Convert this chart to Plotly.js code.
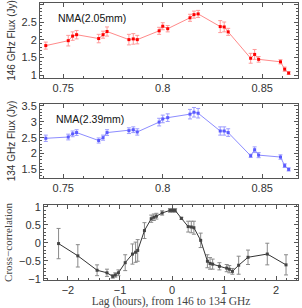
<!DOCTYPE html>
<html><head><meta charset="utf-8">
<script src="https://cdn.plot.ly/plotly-3.0.1.min.js"></script>
<style>html,body{margin:0;padding:0;background:#fff}#g{width:302px;height:308px}</style>
</head><body><div id="g"></div>
<script>
// Panel 1: 146 GHz (2.05 mm)
const time1 = [0.7412,0.7525,0.7547,0.7567,0.7678,0.7700,0.7720,0.7830,0.7852,0.7872,0.7982,0.8000,0.8025,0.8137,0.8157,0.8178,0.8289,0.8309,0.8329,0.8442,0.8462,0.8482,0.8592,0.8613,0.8633];
const flux146 = [1.84,1.98,2.11,2.15,2.04,2.15,2.24,2.01,2.03,2.01,2.26,2.39,2.32,2.63,2.72,2.74,2.38,2.37,2.23,1.48,1.59,1.45,1.38,1.17,1.06];
const err146 = [0.10,0.15,0.12,0.12,0.12,0.10,0.13,0.15,0.15,0.12,0.10,0.10,0.09,0.10,0.10,0.10,0.17,0.14,0.10,0.14,0.14,0.08,0.06,0.06,0.04];
// Panel 2: 134 GHz (2.39 mm)
const flux134 = [2.48,2.52,2.62,2.66,2.41,2.50,2.66,2.72,2.75,2.68,2.99,3.09,3.13,3.24,3.30,3.27,2.71,2.71,2.66,1.93,2.12,1.95,1.89,1.62,1.50];
const err134 = [0.10,0.09,0.09,0.09,0.08,0.08,0.09,0.09,0.09,0.10,0.12,0.12,0.12,0.15,0.15,0.15,0.13,0.13,0.12,0.05,0.09,0.08,0.07,0.06,0.05];
// Panel 3: cross-correlation
const lag = [-2.18,-1.81,-1.44,-1.25,-1.14,-1.09,-1.03,-0.90,-0.76,-0.70,-0.66,-0.53,-0.40,-0.35,-0.30,-0.19,-0.04,0.01,0.06,0.18,0.31,0.37,0.42,0.55,0.68,0.73,0.78,0.91,1.05,1.10,1.16,1.28,1.46,1.83,2.19];
const ccf = [-0.02,-0.36,-0.76,-0.83,-0.93,-0.89,-0.83,-0.55,-0.31,-0.26,-0.21,0.34,0.67,0.71,0.74,0.83,0.90,0.90,0.90,0.68,0.45,0.44,0.42,0.07,-0.51,-0.57,-0.59,-0.65,-0.70,-0.73,-0.79,-0.62,-0.40,-0.31,-0.61];
const ccfErr = [0.42,0.31,0.15,0.10,0.05,0.06,0.08,0.22,0.28,0.28,0.30,0.22,0.10,0.09,0.08,0.06,0.05,0.05,0.05,0.03,0.15,0.16,0.18,0.20,0.18,0.16,0.14,0.10,0.10,0.10,0.08,0.25,0.20,0.30,0.28];

const traces = [
 {x: time1, y: flux146, xaxis:'x', yaxis:'y', mode:'lines+markers', type:'scatter',
  line:{color:'#ff8a8a', width:1}, marker:{symbol:'square', size:3, color:'#ff0000'},
  error_y:{type:'data', array: err146, color:'#ff9a9a', thickness:1, width:2}},
 {x: time1, y: flux134, xaxis:'x2', yaxis:'y2', mode:'lines+markers', type:'scatter',
  line:{color:'#8c8cff', width:1}, marker:{symbol:'square', size:3, color:'#5a5aff'},
  error_y:{type:'data', array: err134, color:'#9c9cff', thickness:1, width:2}},
 {x: lag, y: ccf, xaxis:'x3', yaxis:'y3', mode:'lines+markers', type:'scatter',
  line:{color:'#333', width:1}, marker:{symbol:'square', size:3, color:'#444'},
  error_y:{type:'data', array: ccfErr, color:'#8a8a8a', thickness:1, width:2}}
];

const tf = {family:'Liberation Sans, Arial, sans-serif', size:11, color:'#333'};
function ax(o){ return Object.assign({showline:true, mirror:'allticks', linecolor:'#555', linewidth:1,
  ticks:'inside', ticklen:4, tickcolor:'#555', showgrid:false, zeroline:false, tickfont:tf}, o); }
const xd = [40/302, 298/302], xd3 = [44/302, 298/302];
const layout = {
 width:302, height:308, margin:{l:0,r:0,t:0,b:0}, showlegend:false,
 paper_bgcolor:'#fff', plot_bgcolor:'#fff',
 xaxis: ax({domain:xd, anchor:'y', range:[0.7383,0.868], tickvals:[0.75,0.8,0.85], ticktext:['0.75','0.8','0.85'],
   minor:{dtick:0.01, ticklen:2, ticks:'inside', tickcolor:'#555'}}),
 yaxis: ax({domain:[1-78/308, 1-3/308], anchor:'x', range:[0.92,3.05], dtick:0.5,
   minor:{dtick:0.1, ticklen:2, ticks:'inside', tickcolor:'#555'},
   title:{text:'146 GHz Flux (Jy)', font:{family:'Liberation Sans, Arial, sans-serif', size:10, color:'#333'}, standoff:4}}),
 xaxis2: ax({domain:xd, anchor:'y2', range:[0.7383,0.868], tickvals:[0.75,0.8,0.85], ticktext:['0.75','0.8','0.85'],
   minor:{dtick:0.01, ticklen:2, ticks:'inside', tickcolor:'#555'}}),
 yaxis2: ax({domain:[1-178/308, 1-104/308], anchor:'x2', range:[1.23,3.56], dtick:0.5,
   minor:{dtick:0.1, ticklen:2, ticks:'inside', tickcolor:'#555'},
   title:{text:'134 GHz Flux (Jy)', font:{family:'Liberation Sans, Arial, sans-serif', size:10, color:'#333'}, standoff:4}}),
 xaxis3: ax({domain:xd3, anchor:'y3', range:[-2.46,2.42], dtick:1,
   minor:{dtick:0.2, ticklen:2, ticks:'inside', tickcolor:'#555'},
   title:{text:'Lag (hours), from 146 to 134 GHz', font:{family:'Liberation Serif, serif', size:11.5, color:'#444'}, standoff:4}}),
 yaxis3: ax({domain:[1-280/308, 1-205/308], anchor:'x3', range:[-1.03,1.05], dtick:0.5,
   minor:{dtick:0.1, ticklen:2, ticks:'inside', tickcolor:'#555'},
   title:{text:'Cross\u2212correlation', font:{family:'Liberation Serif, serif', size:11, color:'#444'}, standoff:4}}),
 annotations:[
  {text:'NMA(2.05mm)', xref:'paper', yref:'paper', x:56/302, y:1-18/308, xanchor:'left', yanchor:'middle', showarrow:false,
   font:{family:'Liberation Sans, Arial, sans-serif', size:10.5, color:'#111'}},
  {text:'NMA(2.39mm)', xref:'paper', yref:'paper', x:54/302, y:1-119/308, xanchor:'left', yanchor:'middle', showarrow:false,
   font:{family:'Liberation Sans, Arial, sans-serif', size:10.5, color:'#111'}}
 ]
};
Plotly.newPlot('g', traces, layout, {staticPlot:true, displayModeBar:false});
</script></body></html>
